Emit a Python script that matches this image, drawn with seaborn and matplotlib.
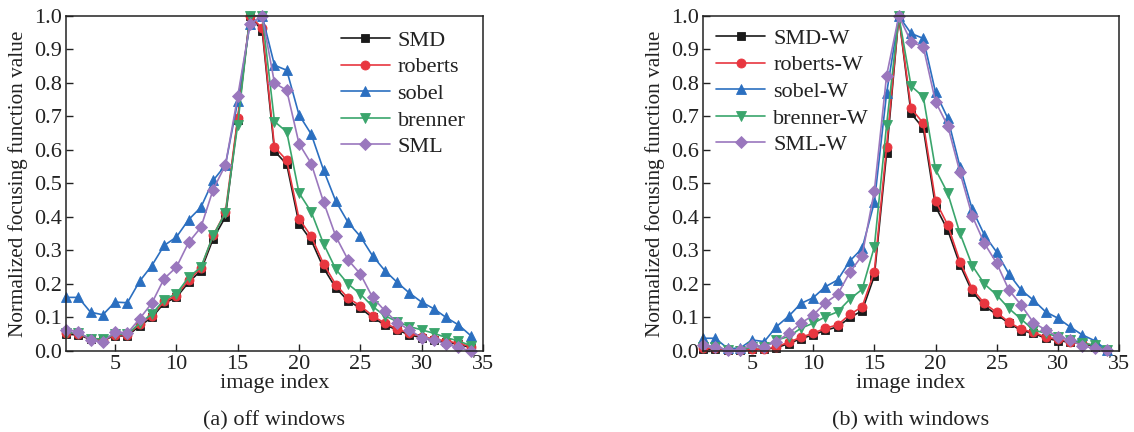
import numpy as np
import pandas as pd
import seaborn as sns
import matplotlib
matplotlib.use("Agg")
import matplotlib.pyplot as plt

# image index along the focus sweep
image_index = list(range(1, 35))

# (a) focusing measures computed without windows
smd = [0.050, 0.048, 0.035, 0.033, 0.045, 0.045, 0.075, 0.100, 0.143, 0.160,
       0.205, 0.240, 0.335, 0.400, 0.690, 1.000, 0.956, 0.597, 0.557, 0.380,
       0.330, 0.248, 0.188, 0.150, 0.128, 0.100, 0.078, 0.063, 0.048, 0.040,
       0.033, 0.027, 0.020, 0.010]
roberts = [0.055, 0.052, 0.036, 0.034, 0.048, 0.048, 0.080, 0.105, 0.148, 0.165,
           0.212, 0.247, 0.345, 0.415, 0.695, 1.000, 0.964, 0.609, 0.569, 0.395,
           0.342, 0.260, 0.198, 0.158, 0.135, 0.105, 0.083, 0.066, 0.053, 0.043,
           0.036, 0.030, 0.023, 0.013]
sobel = [0.160, 0.160, 0.116, 0.108, 0.146, 0.144, 0.208, 0.255, 0.315, 0.340,
         0.392, 0.429, 0.509, 0.555, 0.745, 0.976, 1.000, 0.853, 0.838, 0.705,
         0.647, 0.540, 0.447, 0.384, 0.342, 0.284, 0.240, 0.205, 0.173, 0.146,
         0.126, 0.100, 0.078, 0.046]
brenner = [0.055, 0.053, 0.037, 0.036, 0.050, 0.050, 0.083, 0.110, 0.153, 0.171,
           0.220, 0.250, 0.345, 0.412, 0.675, 1.000, 1.000, 0.685, 0.654, 0.472,
           0.415, 0.320, 0.244, 0.200, 0.170, 0.133, 0.105, 0.088, 0.073, 0.063,
           0.053, 0.040, 0.030, 0.016]
sml = [0.063, 0.058, 0.033, 0.026, 0.058, 0.053, 0.096, 0.143, 0.216, 0.250,
       0.324, 0.369, 0.482, 0.555, 0.760, 0.976, 1.000, 0.800, 0.778, 0.619,
       0.559, 0.445, 0.342, 0.272, 0.230, 0.160, 0.120, 0.085, 0.063, 0.040,
       0.033, 0.020, 0.011, 0.000]

# (b) focusing measures computed with windows
smd_w = [0.005, 0.005, 0.003, 0.003, 0.005, 0.005, 0.010, 0.022, 0.037, 0.048,
         0.062, 0.072, 0.100, 0.120, 0.224, 0.590, 1.000, 0.709, 0.665, 0.431,
         0.361, 0.257, 0.177, 0.134, 0.109, 0.083, 0.061, 0.053, 0.038, 0.031,
         0.026, 0.023, 0.013, 0.003]
roberts_w = [0.008, 0.008, 0.003, 0.003, 0.005, 0.005, 0.013, 0.026, 0.041, 0.053,
             0.068, 0.078, 0.109, 0.132, 0.237, 0.610, 1.000, 0.724, 0.680, 0.448,
             0.376, 0.267, 0.185, 0.142, 0.115, 0.086, 0.065, 0.056, 0.041, 0.035,
             0.028, 0.025, 0.015, 0.003]
sobel_w = [0.038, 0.038, 0.008, 0.008, 0.033, 0.028, 0.073, 0.104, 0.142, 0.159,
           0.192, 0.212, 0.269, 0.306, 0.444, 0.769, 1.000, 0.948, 0.933, 0.772,
           0.695, 0.550, 0.423, 0.346, 0.295, 0.230, 0.182, 0.152, 0.117, 0.098,
           0.072, 0.048, 0.031, 0.003]
brenner_w = [0.013, 0.013, 0.003, 0.000, 0.013, 0.013, 0.033, 0.043, 0.068, 0.083,
             0.102, 0.117, 0.155, 0.184, 0.311, 0.675, 1.000, 0.791, 0.759, 0.542,
             0.471, 0.351, 0.255, 0.200, 0.167, 0.127, 0.095, 0.063, 0.053, 0.043,
             0.033, 0.023, 0.018, 0.003]
sml_w = [0.018, 0.013, 0.003, 0.003, 0.018, 0.013, 0.028, 0.053, 0.083, 0.107,
         0.144, 0.169, 0.235, 0.285, 0.478, 0.822, 1.000, 0.923, 0.908, 0.744,
         0.672, 0.533, 0.403, 0.321, 0.262, 0.182, 0.137, 0.085, 0.063, 0.043,
         0.033, 0.015, 0.008, 0.003]

names_a = ["SMD", "roberts", "sobel", "brenner", "SML"]
names_b = ["SMD-W", "roberts-W", "sobel-W", "brenner-W", "SML-W"]
series_a = [smd, roberts, sobel, brenner, sml]
series_b = [smd_w, roberts_w, sobel_w, brenner_w, sml_w]

colors = ["#1a1a1a", "#e8363f", "#2b6fc0", "#3aa56c", "#9a77bd"]
markers = ["s", "o", "^", "v", "D"]
msizes = [5.5, 6.5, 7.5, 7.5, 6]

sns.set_theme(style="ticks")
plt.rcParams["font.family"] = ["Liberation Serif", "DejaVu Serif"]
plt.rcParams["mathtext.fontset"] = "stix"

TEXT = "#222222"
FS = 16

fig = plt.figure(figsize=(11.34, 4.32), dpi=100)
ax_a = fig.add_axes([0.0582, 0.1875, 0.3677, 0.7755])
ax_b = fig.add_axes([0.6200, 0.1875, 0.3668, 0.7755])


def draw_panel(ax, names, series, caption, legend_loc, legend_anchor):
    for name, vals, c, m, ms in zip(names, series, colors, markers, msizes):
        df = pd.DataFrame({"index": image_index, "value": vals})
        sns.lineplot(data=df, x="index", y="value", ax=ax, color=c,
                     marker=m, markersize=ms, markeredgecolor=c,
                     markeredgewidth=0.6, linewidth=1.2, label=name,
                     clip_on=False)
    ax.set_xlim(1, 35)
    ax.set_ylim(0, 1.0)
    ax.set_xticks([5, 10, 15, 20, 25, 30, 35])
    ax.set_yticks(np.round(np.arange(0, 1.01, 0.1), 1))
    ax.set_yticklabels([f"{v:.1f}" for v in np.arange(0, 1.01, 0.1)])
    ax.tick_params(direction="in", length=5, width=1, labelsize=FS,
                   colors=TEXT, pad=3)
    for s in ax.spines.values():
        s.set_visible(True)
        s.set_linewidth(1.1)
        s.set_color(TEXT)
    ax.set_xlabel("image index", fontsize=FS, labelpad=0, color=TEXT)
    ax.set_ylabel("Normalized focusing function value", fontsize=15.3,
                  labelpad=4, color=TEXT)
    ax.text(0.5, -0.209, caption, transform=ax.transAxes, ha="center",
            va="center", fontsize=FS, color=TEXT)
    leg = ax.legend(loc=legend_loc, bbox_to_anchor=legend_anchor,
                    frameon=False, fontsize=FS, handlelength=2.2,
                    handletextpad=0.35, labelspacing=0.27, borderaxespad=0.2)
    for t in leg.get_texts():
        t.set_color(TEXT)


draw_panel(ax_a, names_a, series_a, "(a) off windows", "upper right",
           (0.99, 0.997))
draw_panel(ax_b, names_b, series_b, "(b) with windows", "upper left",
           (0.0, 1.003))

fig.savefig("out.png", dpi=100)
